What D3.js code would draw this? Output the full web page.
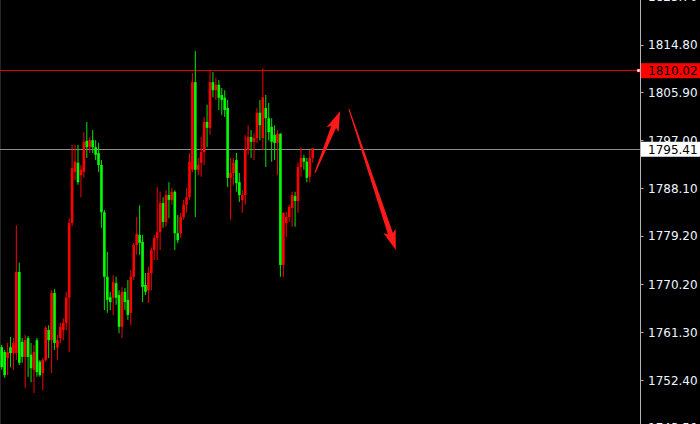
<!DOCTYPE html>
<html><head><meta charset="utf-8">
<script src="https://cdn.jsdelivr.net/npm/d3@7"></script>
<style>html,body{margin:0;padding:0;background:#000;overflow:hidden}</style>
</head><body><svg id="c" width="700" height="424"></svg>
<script>
const open  = [1758.5,1757.6,1756.5,1758.5,1757.4,1757.4,1772.5,1759.5,1756.7,1760.2,1757.1,1754.3,1759.8,1755.8,1753.7,1756.1,1761.7,1759.8,1768.6,1758.4,1760.2,1761.7,1763.0,1767.7,1781.6,1791.1,1792.8,1790.5,1791.1,1796.9,1795.7,1797.0,1795.7,1794.6,1792.4,1783.6,1771.6,1767.8,1767.7,1770.4,1768.2,1762.3,1768.8,1767.3,1764.9,1771.6,1777.5,1779.4,1778.1,1770.1,1769.1,1772.3,1776.6,1778.8,1779.9,1785.3,1781.8,1786.8,1785.9,1787.4,1779.7,1779.7,1782.7,1785.0,1786.4,1791.5,1807.8,1791.5,1792.8,1794.8,1800.4,1799.3,1807.8,1806.3,1807.3,1805.4,1804.9,1803.0,1790.0,1790.9,1793.3,1789.2,1785.9,1786.8,1795.2,1797.6,1796.7,1797.4,1802.1,1797.4,1803.0,1801.1,1799.5,1798.0,1796.5,1798.2,1773.8,1781.6,1782.7,1784.4,1786.6,1785.7,1792.0,1793.7,1793.0,1790.2,1793.7];
const close = [1754.8,1753.3,1757.6,1757.4,1759.3,1772.5,1755.6,1756.7,1759.8,1756.7,1754.6,1757.6,1753.9,1753.3,1756.1,1762.1,1759.8,1768.6,1759.3,1759.8,1762.3,1763.0,1767.7,1781.6,1791.8,1793.0,1789.2,1791.5,1796.7,1795.7,1797.0,1795.7,1794.3,1792.4,1783.6,1771.6,1767.3,1766.9,1770.6,1767.7,1762.3,1768.8,1766.9,1764.5,1771.6,1777.5,1779.6,1777.9,1769.7,1768.8,1772.3,1776.6,1778.8,1779.9,1785.3,1781.8,1786.8,1785.9,1787.4,1779.7,1778.4,1782.7,1785.0,1786.4,1793.0,1807.8,1791.5,1792.4,1794.8,1800.4,1799.3,1807.8,1806.3,1807.3,1804.9,1804.5,1802.6,1790.0,1790.9,1792.8,1789.0,1786.8,1786.8,1795.2,1797.6,1796.7,1797.4,1802.1,1799.8,1805.0,1801.1,1798.5,1796.7,1796.5,1798.2,1773.8,1783.5,1782.7,1784.6,1786.8,1785.7,1792.0,1793.7,1793.0,1790.0,1793.7,1795.5];
const high  = [1758.9,1758.0,1759.3,1760.4,1760.2,1781.2,1774.2,1760.2,1760.8,1760.6,1759.3,1758.9,1760.2,1756.1,1756.5,1762.4,1762.6,1769.1,1769.3,1760.8,1763.0,1763.9,1768.8,1782.5,1796.1,1796.1,1796.1,1792.4,1798.5,1800.4,1797.6,1798.9,1797.0,1796.5,1793.3,1784.0,1776.2,1768.8,1771.9,1771.6,1769.1,1769.7,1769.5,1771.0,1772.9,1777.9,1782.7,1784.9,1779.4,1772.3,1773.4,1777.0,1779.4,1788.3,1787.4,1786.4,1787.7,1789.2,1788.1,1787.7,1783.1,1783.5,1785.9,1788.1,1794.6,1809.5,1813.6,1793.7,1797.6,1801.3,1803.6,1809.9,1809.7,1808.6,1808.2,1806.7,1806.3,1804.5,1793.7,1793.7,1794.6,1790.9,1787.7,1798.0,1799.8,1798.9,1798.3,1803.0,1804.5,1810.4,1805.4,1803.9,1801.1,1799.8,1798.9,1798.3,1783.5,1783.7,1785.0,1787.4,1787.4,1792.8,1795.7,1794.3,1793.7,1795.2,1795.5];
const low   = [1754.3,1752.8,1753.3,1754.8,1754.3,1756.1,1755.2,1755.6,1750.9,1753.0,1752.0,1750.0,1753.0,1753.0,1750.5,1755.8,1756.5,1753.7,1758.0,1756.1,1759.3,1759.8,1761.7,1757.6,1781.0,1789.6,1788.7,1786.4,1790.0,1793.7,1794.6,1794.6,1793.3,1791.1,1780.7,1765.4,1764.9,1765.4,1764.5,1766.4,1761.1,1760.2,1765.4,1763.6,1762.6,1771.0,1775.7,1775.7,1766.9,1768.2,1766.7,1769.1,1774.7,1774.7,1776.6,1780.7,1780.9,1782.5,1785.0,1776.6,1777.9,1778.8,1782.2,1783.5,1785.9,1791.1,1782.7,1790.5,1790.2,1792.4,1795.7,1798.0,1805.0,1804.5,1802.6,1801.7,1801.3,1788.3,1782.2,1788.7,1787.4,1785.5,1783.5,1785.0,1794.3,1793.7,1793.3,1796.5,1797.0,1795.2,1792.0,1797.0,1793.0,1793.3,1790.5,1771.6,1771.6,1779.0,1781.8,1780.9,1780.9,1783.5,1790.2,1791.5,1789.2,1789.2,1792.8];

const tickValues = [1823.70,1814.80,1805.90,1797.00,1788.10,1779.20,1770.20,1761.30,1752.40,1743.50];
const resistance = 1810.02;
const lastPrice = 1795.41;
// annotation arrows: [fromIndex, fromPrice, toIndex, toPrice]
const arrows = [[106.8,1790.9,115.4,1802.4],[118.4,1802.8,134.4,1776.6]];

const svg = d3.select('#c');
const W = 700, H = 424, axisX = 640.5;
svg.append('rect').attr('width',W).attr('height',H).attr('fill','#000');
svg.append('line').attr('x1',0.5).attr('x2',0.5).attr('y1',0).attr('y2',H).attr('stroke','#262626');

const y = d3.scaleLinear().domain([1752.40,1814.80]).range([380,44.5]);
const x = d3.scaleLinear().domain([0, open.length-1]).range([1.5, 312.5]);

const data = open.map((o,i)=>({i,o,c:close[i],h:high[i],l:low[i]}));
const up = d=>d.c>=d.o;

// horizontal level lines
svg.append('line').attr('x1',0).attr('x2',axisX).attr('y1',Math.round(y(lastPrice))+0.5).attr('y2',Math.round(y(lastPrice))+0.5).attr('stroke','#8c8c8c').attr('stroke-width',1);
svg.append('line').attr('x1',0).attr('x2',axisX).attr('y1',Math.round(y(resistance))+0.5).attr('y2',Math.round(y(resistance))+0.5).attr('stroke','#e00000').attr('stroke-width',1);
svg.append('rect').attr('x',axisX-3.5).attr('y',Math.round(y(resistance))-1).attr('width',3).attr('height',3).attr('fill','#fff').attr('stroke','#e00000').attr('stroke-width',0.5);

// candles
const g = svg.append('g');
g.selectAll('line.w').data(data).enter().append('line')
  .attr('x1',d=>x(d.i)+0.2).attr('x2',d=>x(d.i)+0.2)
  .attr('y1',d=>y(d.h)).attr('y2',d=>y(d.l))
  .attr('stroke',d=>up(d)?'#e00000':'#00d000').attr('stroke-width',1.1);
g.selectAll('rect.b').data(data).enter().append('rect')
  .attr('x',d=>x(d.i)-1.1).attr('width',2.6)
  .attr('y',d=>y(Math.max(d.o,d.c)))
  .attr('height',d=>Math.max(1,Math.abs(y(d.o)-y(d.c))))
  .attr('fill',d=>up(d)?'#ff0000':'#00ff00');

// arrows
function arrowPath(x1,y1,x2,y2){
  const dx=x2-x1, dy=y2-y1, L=Math.hypot(dx,dy), ux=dx/L, uy=dy/L, nx=-uy, ny=ux;
  const headL=17, headW=6.5, neckW=2.6, tailW=0.5;
  const bx=x2-ux*headL, by=y2-uy*headL;
  const pts=[[x1+nx*tailW,y1+ny*tailW],[bx+nx*neckW,by+ny*neckW],[bx+nx*headW-ux*3,by+ny*headW-uy*3],[x2,y2],
    [bx-nx*headW-ux*3,by-ny*headW-uy*3],[bx-nx*neckW,by-ny*neckW],[x1-nx*tailW,y1-ny*tailW]];
  return 'M'+pts.map(p=>p.join(',')).join('L')+'Z';
}
arrows.forEach(a=>{
  svg.append('path').attr('d',arrowPath(x(a[0]),y(a[1]),x(a[2]),y(a[3]))).attr('fill','#ff1a1a');
});

// right axis
const ax = svg.append('g');
ax.append('line').attr('x1',axisX).attr('x2',axisX).attr('y1',0).attr('y2',H).attr('stroke','#b4b4b4');
tickValues.forEach(v=>{
  const ty=Math.round(y(v))+0.5;
  ax.append('line').attr('x1',axisX).attr('x2',axisX+3).attr('y1',ty).attr('y2',ty).attr('stroke','#b4b4b4');
  ax.append('text').attr('x',648).attr('y',y(v)+4.5).attr('fill','#eef6ff')
    .attr('font-family','DejaVu Sans').attr('font-size',12).text(v.toFixed(2));
});
function priceTag(v,bg,fg){
  const ty=y(v);
  ax.append('rect').attr('x',axisX+0.5).attr('y',ty-7).attr('width',W-axisX).attr('height',15).attr('fill',bg);
  ax.append('text').attr('x',648).attr('y',ty+5).attr('fill',fg)
    .attr('font-family','DejaVu Sans').attr('font-size',12).text(v.toFixed(2));
}
priceTag(resistance,'#ff0000','#000');
priceTag(lastPrice,'#ffffff','#000');
</script></body></html>
